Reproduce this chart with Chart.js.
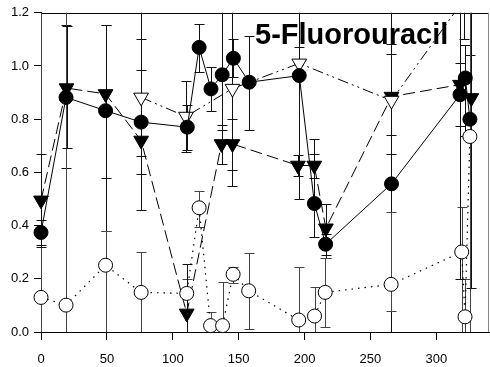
<!DOCTYPE html>
<html>
<head>
<meta charset="utf-8">
<script src="https://cdn.jsdelivr.net/npm/chart.js@4/dist/chart.umd.min.js"></script>
<style>
  html, body { margin: 0; padding: 0; background: #fff; }
  #wrap { width: 490px; height: 367px; }
</style>
</head>
<body>
<div id="wrap"><canvas id="c" width="490" height="367"></canvas></div>
<script>
// ---- data -------------------------------------------------------------
const TITLE = '5-Fluorouracil';
const X_TICKS = [0, 50, 100, 150, 200, 250, 300];
const Y_TICKS = [0, 0.2, 0.4, 0.6, 0.8, 1.0, 1.2];

// filled circles, solid line
const fcX  = [0, 19, 49, 76, 111, 120, 129, 137.5, 146, 158, 196, 207.5, 216, 266, 318, 322, 325.5];
const fcY  = [0.374, 0.882, 0.832, 0.789, 0.77, 1.07, 0.914, 0.967, 1.029, 0.939, 0.964, 0.483, 0.33, 0.557, 0.892, 0.955, 0.80];
const fcLo = [0.326, 0.615, 0.38, 0.594, 0.686, 0.976, 0.83, 0.76, 0.957, 0.76, 0.50, 0.356, 0.28, -0.3, 0.776, 0.735, 0.735];
const fcHi = [0.42, 1.155, 1.155, 0.986, 0.855, 1.157, 0.995, 1.5, 1.10, 1.113, 1.5, 0.724, 0.37, 1.5, 1.5, 1.08, 1.04];

// filled down-triangles, dashed line
const ftX  = [0, 19.4, 49, 76, 110.6, 137, 145.3, 195, 207.4, 216.2, 266, 318, 326.6];
const ftY  = [0.495, 0.917, 0.895, 0.72, 0.07, 0.707, 0.707, 0.626, 0.626, 0.39, 0.885, 0.93, 0.88];
const ftLo = [0.32, 0.69, 0.58, 0.457, -0.125, 0.633, 0.61, 0.585, 0.58, 0.29, 0.739, 0.2, 0.164];
const ftHi = [0.67, 1.15, 1.155, 1.5, 0.255, 0.78, 0.80, 0.664, 0.67, 0.48, 1.046, 1.01, 1.5];

// open down-triangles, dash-dot line
const otX  = [76, 110, 145.3, 196, 266, 321];
const otY  = [0.882, 0.81, 0.915, 1.01, 0.87, 1.25];
const otLo = [0.66, 0.676, 0.55, 0.95, 0.67, 1.1];
const otHi = [1.10, 0.945, 1.5, 1.07, 1.083, 1.4];

// open circles, dotted line
const ocX  = [0, 19, 49, 76, 110.6, 120, 128.7, 137.8, 145.8, 157.6, 195.6, 207.6, 215.7, 265.7, 319.3, 321.8, 325.5];
const ocY  = [0.13, 0.101, 0.251, 0.149, 0.145, 0.467, 0.024, 0.024, 0.217, 0.155, 0.045, 0.06, 0.149, 0.179, 0.301, 0.057, 0.735];
const ocLo = [-0.3, -0.3, -0.3, -0.3, 0.08, 0.395, -0.04, -0.15, 0.183, 0.01, -0.15, -0.05, 0.02, 0.08, -0.3, -0.3, -0.3];
const ocHi = [1.5, 1.5, 0.38, 0.30, 0.20, 0.53, 0.076, 0.187, 0.245, 0.296, 0.244, 0.168, 0.28, 0.45, 0.47, 0.20, 1.5];

const pts = (xs, ys) => xs.map((x, i) => ({ x: x, y: ys[i] }));

// ---- plugins ----------------------------------------------------------
// vertical error bars with caps, clipped to the plot frame
const errorBars = {
  id: 'errorBars',
  beforeDatasetsDraw(chart) {
    const { ctx, chartArea: a, scales: { x, y } } = chart;
    ctx.save();
    ctx.beginPath();
    ctx.rect(a.left - 12, a.top, a.right - a.left + 24, a.bottom - a.top);
    ctx.clip();
    ctx.lineWidth = 1;
    chart.data.datasets.forEach(ds => {
      ctx.strokeStyle = ds.errColor;
      ds.data.forEach((p, i) => {
        const px = Math.round(x.getPixelForValue(p.x)) + 0.5;
        const lo = Math.round(y.getPixelForValue(ds.errLo[i])) + 0.5;
        const hi = Math.round(y.getPixelForValue(ds.errHi[i])) + 0.5;
        ctx.beginPath();
        ctx.moveTo(px, lo); ctx.lineTo(px, hi);
        ctx.moveTo(px - 5, lo); ctx.lineTo(px + 5, lo);
        ctx.moveTo(px - 5, hi); ctx.lineTo(px + 5, hi);
        ctx.stroke();
      });
    });
    ctx.restore();
  }
};

// top and right edges of the plot frame
const frame = {
  id: 'frame',
  beforeDatasetsDraw(chart) {
    const { ctx, chartArea: a } = chart;
    ctx.save();
    ctx.lineWidth = 1;
    ctx.strokeStyle = '#000';
    ctx.beginPath();
    ctx.moveTo(a.left, Math.round(a.top) + 0.5);
    ctx.lineTo(a.right, Math.round(a.top) + 0.5);
    ctx.stroke();
    ctx.strokeStyle = '#888';
    ctx.beginPath();
    ctx.moveTo(Math.round(a.right) - 0.5, a.top);
    ctx.lineTo(Math.round(a.right) - 0.5, a.bottom);
    ctx.stroke();
    ctx.restore();
  }
};

// bold label inside the plot
const heading = {
  id: 'heading',
  afterDatasetsDraw(chart) {
    const { ctx } = chart;
    ctx.save();
    ctx.font = 'bold 29px "Liberation Sans", Arial, sans-serif';
    ctx.fillStyle = '#000';
    ctx.textAlign = 'left';
    ctx.textBaseline = 'alphabetic';
    ctx.fillText(TITLE, 255, 43.5);
    ctx.restore();
  }
};

// ---- chart ------------------------------------------------------------
const CLIP = { left: 12, right: 12, top: 0, bottom: 12 };

new Chart(document.getElementById('c'), {
  type: 'scatter',
  data: {
    datasets: [
      {
        data: pts(fcX, fcY), errLo: fcLo, errHi: fcHi, errColor: '#111',
        showLine: true, borderColor: '#000', borderWidth: 1,
        pointStyle: 'circle', pointRadius: 7, pointBackgroundColor: '#000',
        pointBorderColor: '#000', pointBorderWidth: 1, clip: CLIP
      },
      {
        data: pts(ocX, ocY), errLo: ocLo, errHi: ocHi, errColor: '#444',
        showLine: true, borderColor: '#000', borderWidth: 1.2, borderDash: [1.5, 5],
        pointStyle: 'circle', pointRadius: 7, pointBackgroundColor: '#fff',
        pointBorderColor: '#000', pointBorderWidth: 1, clip: CLIP
      },
      {
        data: pts(otX, otY), errLo: otLo, errHi: otHi, errColor: '#111',
        showLine: true, borderColor: '#000', borderWidth: 1, borderDash: [11, 4, 2, 4, 2, 4],
        pointStyle: 'triangle', rotation: 180, pointRadius: 8.5, pointBackgroundColor: '#fff',
        pointBorderColor: '#000', pointBorderWidth: 1, clip: CLIP
      },
      {
        data: pts(ftX, ftY), errLo: ftLo, errHi: ftHi, errColor: '#111',
        showLine: true, borderColor: '#000', borderWidth: 1, borderDash: [12, 5],
        pointStyle: 'triangle', rotation: 180, pointRadius: 8.5, pointBackgroundColor: '#000',
        pointBorderColor: '#000', pointBorderWidth: 1, clip: CLIP
      }
    ]
  },
  options: {
    responsive: false,
    animation: false,
    devicePixelRatio: 1,
    layout: { autoPadding: false, padding: { left: 0, right: 1, top: 12, bottom: 0 } },
    plugins: { legend: { display: false }, tooltip: { enabled: false } },
    scales: {
      x: {
        type: 'linear', min: 0, max: 340,
        afterBuildTicks: s => { s.ticks = X_TICKS.map(v => ({ value: v })); },
        afterFit: s => { s.height = 35; },
        grid: { drawOnChartArea: false, drawTicks: true, tickLength: 8, tickColor: '#000' },
        border: { display: true, color: '#000', width: 1 },
        ticks: {
          color: '#000', padding: 12, maxRotation: 0,
          font: { family: '"Liberation Sans", Arial, sans-serif', size: 13 }
        }
      },
      y: {
        type: 'linear', min: 0, max: 1.2,
        afterBuildTicks: s => { s.ticks = Y_TICKS.map(v => ({ value: v })); },
        afterFit: s => { s.width = 41; },
        grid: { drawOnChartArea: false, drawTicks: true, tickLength: 7, tickColor: '#000' },
        border: { display: true, color: '#000', width: 1 },
        ticks: {
          color: '#000', padding: 5,
          callback: v => v.toFixed(1),
          font: { family: '"Liberation Sans", Arial, sans-serif', size: 13 }
        }
      }
    }
  },
  plugins: [frame, errorBars, heading]
});
</script>
</body>
</html>
